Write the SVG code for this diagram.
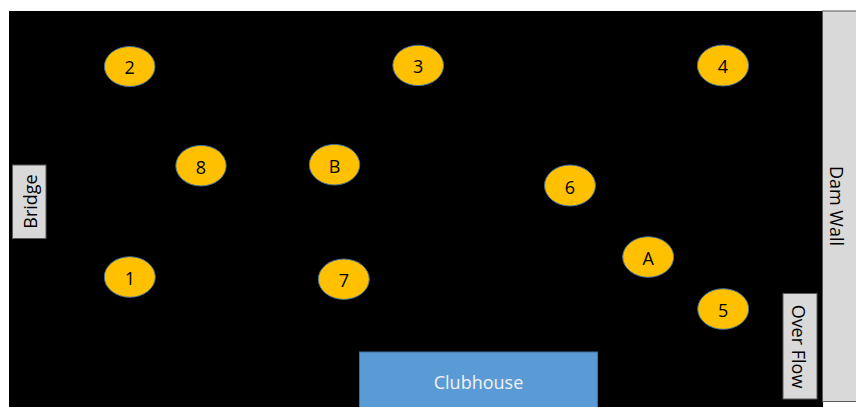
<svg xmlns="http://www.w3.org/2000/svg" width="856" height="407" viewBox="0 0 856 407">
  <style>
    .pt ellipse { fill: #FFC000; stroke: #41719C; stroke-width: 1; }
    .pt text { font-family: "Open Sans", "Liberation Sans", sans-serif; font-size: 18px; fill: #000000; text-anchor: middle; dominant-baseline: central; }
    .lbl rect { fill: #D9D9D9; stroke: #595959; stroke-width: 1; }
    .lbl text { font-family: "Open Sans", "Liberation Sans", sans-serif; font-size: 18px; fill: #000000; text-anchor: middle; dominant-baseline: central; }
  </style>
  <rect x="0" y="0" width="856" height="407" fill="#FFFFFF"/>
  <rect id="field" x="9" y="11" width="814" height="396" fill="#000000"/>

  <g id="connectors"></g>

  <g id="dam-wall" class="lbl">
    <rect x="822.5" y="11" width="34" height="390.5"/>
    <text transform="translate(837,206) rotate(90)">Dam Wall</text>
  </g>
  <g id="bridge" class="lbl">
    <rect x="12.5" y="165" width="33.5" height="73.5"/>
    <text transform="translate(30,201.5) rotate(-90)">Bridge</text>
  </g>
  <g id="over-flow" class="lbl">
    <rect x="783" y="293.5" width="34" height="105.5"/>
    <text transform="translate(799,346.5) rotate(90)">Over Flow</text>
  </g>
  <g id="clubhouse">
    <rect x="359.5" y="352" width="238" height="56" fill="#5B9BD5" stroke="#41719C" stroke-width="1"/>
    <text x="478.5" y="382" font-family="Open Sans, Liberation Sans, sans-serif" font-size="18" fill="#F2F2F2" text-anchor="middle" dominant-baseline="central">Clubhouse</text>
  </g>

  <g id="node-2" class="pt"><ellipse cx="129.7" cy="66.5" rx="25.3" ry="20"/><text x="129.7" y="67">2</text></g>
  <g id="node-3" class="pt"><ellipse cx="418.2" cy="65.4" rx="25.4" ry="20.2"/><text x="418.2" y="66">3</text></g>
  <g id="node-4" class="pt"><ellipse cx="723" cy="65.5" rx="25.6" ry="20.5"/><text x="723" y="66">4</text></g>
  <g id="node-8" class="pt"><ellipse cx="201" cy="165.7" rx="25.2" ry="20.3"/><text x="201" y="166.5">8</text></g>
  <g id="node-B" class="pt"><ellipse cx="334.5" cy="164.7" rx="25.2" ry="20.3"/><text x="334.5" y="165.5">B</text></g>
  <g id="node-6" class="pt"><ellipse cx="570" cy="185.5" rx="25.5" ry="20.5"/><text x="570" y="186.5">6</text></g>
  <g id="node-A" class="pt"><ellipse cx="648.2" cy="257" rx="25.5" ry="20.3"/><text x="648.2" y="258">A</text></g>
  <g id="node-1" class="pt"><ellipse cx="129.8" cy="277" rx="25.5" ry="20.3"/><text x="129.8" y="278">1</text></g>
  <g id="node-7" class="pt"><ellipse cx="343.8" cy="279.2" rx="25.5" ry="20.2"/><text x="343.8" y="280">7</text></g>
  <g id="node-5" class="pt"><ellipse cx="723.2" cy="309" rx="25.5" ry="20.3"/><text x="723.2" y="310">5</text></g>
</svg>
